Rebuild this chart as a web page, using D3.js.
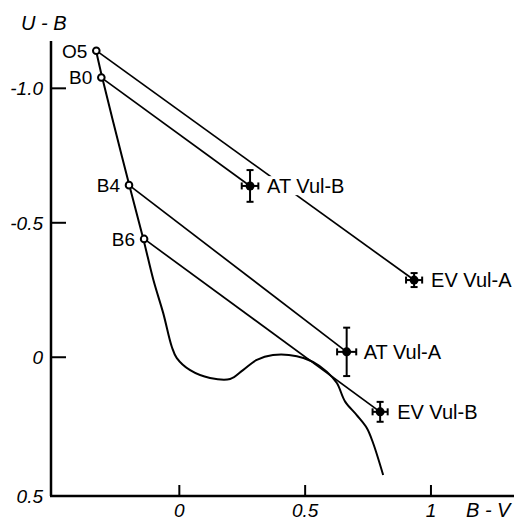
<!DOCTYPE html>
<html lang="en">
<head>
	<meta charset="utf-8">
	<title>U-B / B-V</title>
	<script src="https://cdnjs.cloudflare.com/ajax/libs/d3/7.8.5/d3.min.js"></script>
	<style>
	body { margin: 0; background: #fff; }
	svg { display: block; }
	text { font-family: "Liberation Sans", Arial, sans-serif; fill: #000; }
	.tick-label, .axis-title { font-style: italic; }
	</style>
</head>
<body>
<svg id="chart" width="514" height="521"></svg>
<script>
// spectral types on the intrinsic sequence
var spNames = ['O5', 'B0', 'B4', 'B6'];
var spBV = [-0.33, -0.31, -0.20, -0.14];
var spUB = [-1.14, -1.04, -0.64, -0.44];

// stars and errors
var starNames = ['AT Vul-B', 'EV Vul-A', 'AT Vul-A', 'EV Vul-B'];
var starBV = [0.281, 0.933, 0.665, 0.798];
var starUB = [-0.637, -0.287, -0.020, 0.203];
var starErrBV = [0.033, 0.032, 0.038, 0.030];
var starErrUB = [0.059, 0.026, 0.090, 0.037];
// which spectral type each star is dereddened to
var starSp = ['B0', 'O5', 'B4', 'B6'];

// main sequence curve
var msBV = [-0.331, -0.307, -0.265, -0.198, -0.143, -0.103, -0.064, -0.030, -0.010, 0.043, 0.122, 0.202,
	0.253, 0.308, 0.372, 0.467, 0.531, 0.586, 0.626, 0.659, 0.705, 0.745, 0.770, 0.810];
var msUB = [-1.141, -1.042, -0.883, -0.637, -0.440, -0.287, -0.164, -0.039, 0.003, 0.048, 0.077, 0.081,
	0.048, 0.010, -0.008, -0.004, 0.017, 0.054, 0.096, 0.165, 0.215, 0.263, 0.319, 0.438];

var xTicks = [0, 0.5, 1];
var xTickLabels = ['0', '0.5', '1'];
var yTicks = [-1.0, -0.5, 0, 0.5];
var yTickLabels = ['-1.0', '-0.5', '0', '0.5'];

var svg = d3.select('#chart');

var x = d3.scaleLinear().domain([-0.51, 1.33]).range([51, 514]);
var y = d3.scaleLinear().domain([-1.176, 0.516]).range([41, 496]);

// axes
svg.append('line')
	.attr('x1', x(-0.51)).attr('x2', x(-0.51))
	.attr('y1', y(-1.176)).attr('y2', y(0.516))
	.attr('stroke', '#000').attr('stroke-width', 2.5);
svg.append('line')
	.attr('x1', x(-0.51) - 1).attr('x2', x(1.33))
	.attr('y1', y(0.516)).attr('y2', y(0.516))
	.attr('stroke', '#000').attr('stroke-width', 2.5);

yTicks.forEach(function(t, i) {
	if (t < 0.5) {
		svg.append('line')
			.attr('x1', x(-0.51)).attr('x2', x(-0.51) + 15)
			.attr('y1', y(t)).attr('y2', y(t))
			.attr('stroke', '#000').attr('stroke-width', 2);
	}
	svg.append('text')
		.attr('class', 'tick-label')
		.attr('x', 43)
		.attr('y', t < 0.5 ? y(t) : y(0.516))
		.attr('dy', '0.36em')
		.attr('text-anchor', 'end')
		.style('font-size', '19px')
		.text(yTickLabels[i]);
});

xTicks.forEach(function(t, i) {
	svg.append('line')
		.attr('x1', x(t)).attr('x2', x(t))
		.attr('y1', y(0.516)).attr('y2', y(0.516) - 11)
		.attr('stroke', '#000').attr('stroke-width', 2);
	svg.append('text')
		.attr('class', 'tick-label')
		.attr('x', x(t))
		.attr('y', 517)
		.attr('text-anchor', 'middle')
		.style('font-size', '19px')
		.text(xTickLabels[i]);
});

svg.append('text').attr('class', 'axis-title')
	.attr('x', 21).attr('y', 29.5)
	.style('font-size', '20px')
	.text('U - B');
svg.append('text').attr('class', 'axis-title')
	.attr('x', 466).attr('y', 517)
	.style('font-size', '20px')
	.text('B - V');

// main sequence
var msLine = d3.line()
	.curve(d3.curveCatmullRom.alpha(0.5))
	.x(function(d) { return x(d[0]); })
	.y(function(d) { return y(d[1]); });
svg.append('path')
	.datum(d3.zip(msBV, msUB))
	.attr('d', msLine)
	.attr('fill', 'none')
	.attr('stroke', '#000')
	.attr('stroke-width', 2)
	.attr('stroke-linejoin', 'round');

// reddening lines
starNames.forEach(function(name, i) {
	var k = spNames.indexOf(starSp[i]);
	svg.append('line')
		.attr('x1', x(spBV[k])).attr('y1', y(spUB[k]))
		.attr('x2', x(starBV[i])).attr('y2', y(starUB[i]))
		.attr('stroke', '#000').attr('stroke-width', 1.7);
});

// spectral type points
spNames.forEach(function(name, i) {
	svg.append('circle')
		.attr('cx', x(spBV[i])).attr('cy', y(spUB[i]))
		.attr('r', 3.3)
		.attr('fill', '#fff').attr('stroke', '#000').attr('stroke-width', 2);
	svg.append('text')
		.attr('x', x(spBV[i]) - 9).attr('y', y(spUB[i]))
		.attr('dy', '0.36em')
		.attr('text-anchor', 'end')
		.style('font-size', '19px')
		.text(name);
});

// stars with error bars
starNames.forEach(function(name, i) {
	var cx = x(starBV[i]), cy = y(starUB[i]);
	var x0 = x(starBV[i] - starErrBV[i]), x1 = x(starBV[i] + starErrBV[i]);
	var y0 = y(starUB[i] - starErrUB[i]), y1 = y(starUB[i] + starErrUB[i]);
	var g = svg.append('g');
	g.append('line').attr('x1', x0).attr('x2', x1).attr('y1', cy).attr('y2', cy)
		.attr('stroke', '#000').attr('stroke-width', 2);
	g.append('line').attr('x1', cx).attr('x2', cx).attr('y1', y0).attr('y2', y1)
		.attr('stroke', '#000').attr('stroke-width', 2);
	g.append('line').attr('x1', x0).attr('x2', x0).attr('y1', cy - 3.5).attr('y2', cy + 3.5)
		.attr('stroke', '#000').attr('stroke-width', 2);
	g.append('line').attr('x1', x1).attr('x2', x1).attr('y1', cy - 3.5).attr('y2', cy + 3.5)
		.attr('stroke', '#000').attr('stroke-width', 2);
	g.append('line').attr('x1', cx - 3.5).attr('x2', cx + 3.5).attr('y1', y0).attr('y2', y0)
		.attr('stroke', '#000').attr('stroke-width', 2);
	g.append('line').attr('x1', cx - 3.5).attr('x2', cx + 3.5).attr('y1', y1).attr('y2', y1)
		.attr('stroke', '#000').attr('stroke-width', 2);
	g.append('circle').attr('cx', cx).attr('cy', cy).attr('r', 4.5).attr('fill', '#000');

	var label = g.append('text')
		.attr('x', cx + 17).attr('y', cy)
		.attr('dy', '0.36em')
		.style('font-size', '20px')
		.text(name);
	// white box behind the label breaks any line passing under it
	var bb = label.node().getBBox();
	g.insert('rect', 'text')
		.attr('x', bb.x - 4).attr('y', bb.y + 1)
		.attr('width', bb.width + 4).attr('height', bb.height - 3)
		.attr('fill', '#fff');
});
</script>
</body>
</html>
